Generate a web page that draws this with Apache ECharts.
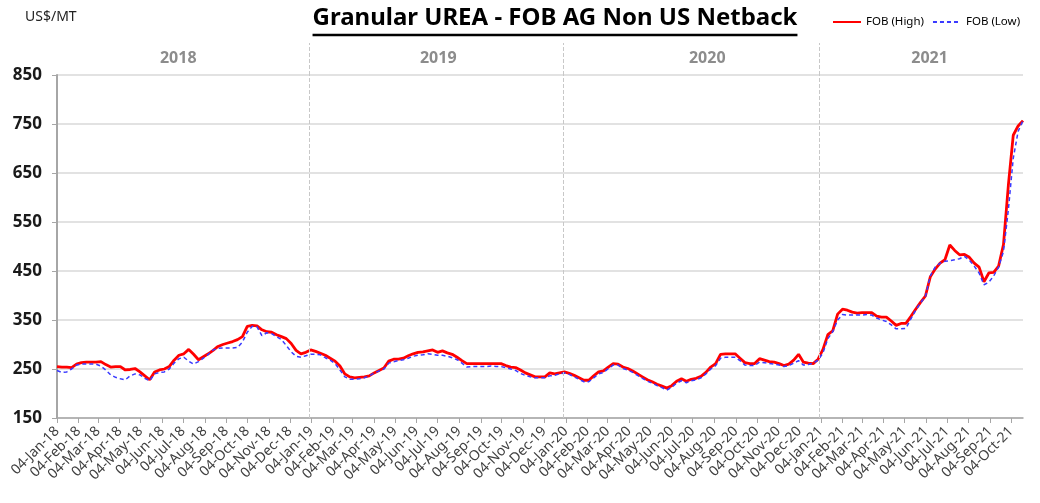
<!DOCTYPE html>
<html><head><meta charset="utf-8">
<script src="https://cdn.jsdelivr.net/npm/echarts@6/dist/echarts.min.js"></script>
<style>html,body{margin:0;padding:0;background:#fff}#c{width:1040px;height:503px}</style>
</head><body><div id="c"></div>
<script>
// ---- data ----
const titleText = 'Granular UREA - FOB AG Non US Netback';
const unitText = 'US$/MT';
const seriesNames = ['FOB (High)', 'FOB (Low)'];
const firstWeek = [2018, 0, 4];          // weekly observations, every 7 days
const fobHigh = [
255,254,254,253,260,263,264,264,264,265,
259,254,255,255,248,249,251,244,236,228,
244,248,250,255,268,278,281,290,280,269,
275,281,288,296,300,303,306,310,316,337,
339,338,330,326,325,320,316,312,302,288,
281,284,289,286,282,278,272,266,256,240,
234,232,233,234,236,242,247,252,266,270,
270,272,277,281,284,285,287,289,284,287,
283,280,274,267,261,261,261,261,261,261,
261,261,257,254,253,248,242,238,234,234,
234,242,240,242,244,241,237,232,227,227,
236,244,246,254,261,260,254,251,246,240,
234,228,224,219,215,211,216,225,230,225,
229,231,235,243,254,261,280,281,281,281,
272,263,261,261,271,268,265,264,261,257,
260,268,280,264,262,261,270,290,320,328,
362,372,370,366,364,365,365,365,358,356,
356,348,339,343,343,357,372,386,399,438,
454,466,473,503,492,483,484,478,466,458,
428,446,447,460,504,625,727,746,757];
const fobLow = [
247,243,244,250,258,260,260,260,260,256,
248,238,233,230,228,236,240,238,231,226,
240,243,244,250,262,271,274,266,260,265,
272,280,289,292,293,293,293,294,305,325,
337,336,318,324,322,316,310,298,285,276,
274,277,280,280,279,273,268,261,248,234,
229,229,230,232,236,242,246,250,262,265,
267,269,272,276,278,279,281,280,278,278,
276,273,269,262,254,255,255,255,255,256,
255,255,253,250,247,241,237,234,232,232,
232,236,237,240,242,239,234,229,224,224,
232,240,243,251,258,258,251,248,243,237,
231,225,221,216,212,207,213,221,226,222,
226,228,232,240,250,257,272,274,274,274,
267,258,257,257,264,263,261,260,258,255,
257,262,267,258,259,262,268,283,312,326,
350,361,360,360,360,360,361,360,354,350,
347,340,332,332,333,352,370,385,398,440,
458,466,470,471,473,475,480,472,460,446,
422,427,440,458,490,575,680,735,757];
const monthNames = ['Jan','Feb','Mar','Apr','May','Jun','Jul','Aug','Sep','Oct','Nov','Dec'];
const tickYears = [2018, 2019, 2020, 2021];
const lastTickMonth = [2021, 9];          // 04-Oct-21
const yearLabels = ['2018', '2019', '2020', '2021'];
const yearLabelAnchors = ['2018-06-27', '2019-07-05', '2020-07-25', '2021-06-09'];
const yearBoundaries = ['2019-01-01', '2020-01-01', '2021-01-01'];
const yMin = 150, yMax = 850, yStep = 100;

// ---- build ----
function ts(s){ const p = s.split('-').map(Number); return new Date(p[0], p[1]-1, p[2]).getTime(); }
const weekDates = fobHigh.map((_, i) => new Date(firstWeek[0], firstWeek[1], firstWeek[2] + 7*i).getTime());
const monthTicks = [];
tickYears.forEach(y => monthNames.forEach((m, mi) => {
  if (y < lastTickMonth[0] || mi <= lastTickMonth[1]) monthTicks.push(new Date(y, mi, 4).getTime());
}));
function fmtDate(v){ const d = new Date(v); return '04-' + monthNames[d.getMonth()] + '-' + String(d.getFullYear()).slice(2); }
const yearLabelTs = yearLabelAnchors.map(ts);
const yearBoundTs = yearBoundaries.map(ts);
const xMin = weekDates[0], xMax = weekDates[weekDates.length-1];

const titleFont = 'bold 24px "Noto Sans"';
const cv = document.createElement('canvas').getContext('2d');
cv.font = titleFont;
const tW = cv.measureText(titleText).width;
const tX = 555;

const chart = echarts.init(document.getElementById('c'), null, {renderer:'canvas'});
chart.setOption({
  animation: false,
  backgroundColor: '#fff',
  textStyle: {fontFamily: '"Noto Sans", sans-serif'},
  grid: {left: 57, right: 17, top: 75, bottom: 85},
  legend: {
    left: 827, top: 11, itemWidth: 28, itemHeight: 10, itemGap: 8,
    itemStyle: {opacity: 0},
    textStyle: {fontSize: 11.5, color: '#000', fontFamily: '"Noto Sans", sans-serif'},
    data: seriesNames
  },
  graphic: [
    {type:'text', x: tX, y: 6, style:{text: titleText, font: titleFont, fill:'#000', align:'center', verticalAlign:'top'}},
    {type:'line', shape:{x1: tX - tW/2, y1: 35, x2: tX + tW/2, y2: 35}, style:{stroke:'#000', lineWidth:2.5}},
    {type:'text', x: 25, y: 10, style:{text: unitText, font:'14px "Noto Sans"', fill:'#222', align:'left', verticalAlign:'top'}}
  ],
  xAxis: [{
    type: 'value', min: xMin, max: xMax, scale: true,
    axisLine: {show: true, onZero: false, lineStyle: {color: '#a6a6a6', width: 1.5}},
    axisTick: {show: true, customValues: monthTicks, length: 5, lineStyle: {color: '#a6a6a6', width: 1}},
    axisLabel: {customValues: monthTicks, formatter: fmtDate, rotate: 45, fontSize: 14, color: '#404040', margin: 11, hideOverlap: false},
    splitLine: {show: false}
  }, {
    type: 'value', min: xMin, max: xMax, scale: true, position: 'top',
    axisLine: {show: false, onZero: false},
    axisTick: {show: true, customValues: yearBoundTs, length: 32, lineStyle: {color: '#c8c8c8', type: 'dashed', width: 1}},
    axisLabel: {customValues: yearLabelTs, formatter: (v) => yearLabels[yearLabelTs.indexOf(v)] || String(new Date(v).getFullYear()),
      fontSize: 16, fontWeight: 'bold', color: '#8c8c8c', margin: 9},
    splitLine: {show: false}
  }],
  yAxis: {
    type: 'value', min: yMin, max: yMax, interval: yStep,
    axisLine: {show: true, lineStyle: {color: '#a6a6a6', width: 2}},
    axisTick: {show: true, length: 5, lineStyle: {color: '#a6a6a6'}},
    axisLabel: {fontSize: 17, fontWeight: 'bold', color: '#1a1a1a', margin: 15},
    splitLine: {show: true, lineStyle: {color: '#d9d9d9', width: 1.5}}
  },
  series: [{
    name: seriesNames[0], type: 'line', symbol: 'none', z: 3,
    data: fobHigh.map((v, i) => [weekDates[i], v]),
    lineStyle: {color: '#ff0000', width: 2.8}, itemStyle: {color: '#ff0000'}
  }, {
    name: seriesNames[1], type: 'line', symbol: 'none', z: 4,
    data: fobLow.map((v, i) => [weekDates[i], v]),
    lineStyle: {color: '#3a3aff', width: 1.5, type: [4, 3]}, itemStyle: {color: '#3a3aff'},
    markLine: {silent: true, symbol: 'none', label: {show: false}, animation: false,
      lineStyle: {color: '#c8c8c8', type: 'dashed', width: 1},
      data: yearBoundTs.map(t => ({xAxis: t}))}
  }]
});
</script></body></html>
